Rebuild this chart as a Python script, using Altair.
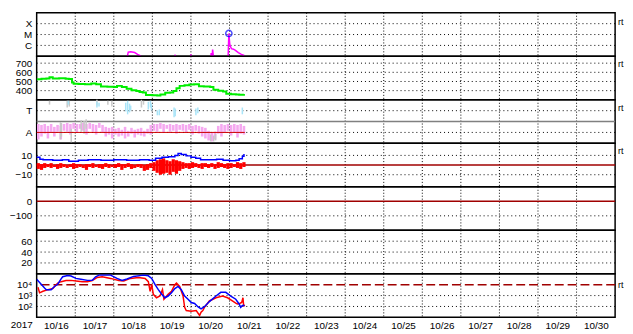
import altair as alt
import pandas as pd

W = 585
H = 44
FONT = "Liberation Sans"
FS = 10
DOT = [1, 3]
DARKRED = "#a00000"

# time axis: hours since 2017-10-16 00:00 UT
day_lines = list(range(24, 360, 24))
label_hours = list(range(12, 360, 24))

# X-ray flux
xray_h = [0, 56, 57, 58.5, 61, 62.8, 64.6, 65.8, 85.8, 86.2, 86.5, 95.7, 96, 96.3,
          108.3, 108.6, 109.1, 109.5, 110.2, 119.1, 119.6, 120.2, 121.2, 122.5, 123.7,
          125.5, 127.4, 129.2]
xray_v = [5e-8, 5e-8, 2.4e-7, 2.6e-7, 2.2e-7, 1.5e-7, 1.1e-7, 5e-8, 5e-8, 1.4e-7, 5e-8,
          5e-8, 1.5e-7, 5e-8, 5e-8, 2e-7, 5e-8, 4.2e-7, 5e-8, 5e-8, 1.25e-5, 1.2e-6,
          5e-7, 4.5e-7, 3.5e-7, 2.2e-7, 1.5e-7, 1.2e-7]
flare_h = [119.6]
flare_v = [1.25e-5]

# solar wind speed
speed_h = [0, 3, 6, 8, 10, 14, 18, 20, 22, 23, 26, 30, 34, 37, 40, 44, 48, 50, 53, 56,
           59, 62, 64, 66, 68, 72, 75, 77, 80, 83, 85, 87, 89, 92, 95, 98, 101, 104,
           108, 110, 113, 116, 118, 121, 124, 126, 129]
speed_v = [525, 530, 532, 545, 532, 535, 530, 528, 490, 475, 472, 470, 478, 470, 445,
           442, 440, 452, 440, 420, 405, 395, 385, 380, 352, 350, 348, 358, 376, 380,
           395, 425, 452, 460, 468, 470, 448, 445, 440, 410, 398, 390, 365, 360, 358,
           356, 362]

# IMF sector (phi), 2-hour bins
pink_hi = [160, 152, 160, 144, 160, 136, 152, 144, 160, 168,
           160, 168, 160, 160, 168, 160, 168, 160, 152, 168,
           152, 136, 128, 136, 120, 128, 112, 136, 104, 128,
           112, 120, 128, 104, 120, 152, 160, 160, 168, 160,
           152, 160, 152, 160, 152, 160, 152, 160, 144, 152,
           144, 136, 128, 104, 88, 96, 144, 160, 152, 160,
           152, 160, 152, 160, 144]
pink_lo = [32, 56, 80, 40, 88, 56, 96, 32, 104, 96,
           72, 120, 88, 120, 104, 72, 120, 96, 72, 128,
           88, 56, 72, 40, 72, 56, 64, 40, 56, 80,
           48, 72, 64, 56, 80, 72, 104, 96, 120, 88,
           120, 96, 104, 80, 112, 104, 88, 112, 72, 104,
           80, 56, 40, 24, 16, 32, 80, 56, 88, 104,
           64, 88, 48, 80, 72]
gray_h = [8, 14.8, 15.4, 19, 20.3, 21.5, 27.7, 29.5, 30.8, 37.5, 44.3, 46.8, 65.2, 66.5,
          108.3, 110.2, 111.4]
gray_lo = [320, 32, 56, 296, 304, 0, 96, 80, 120, 312, 320, 304, 296, 320, 16, 16, 24]
gray_hi = [352, 176, 168, 352, 352, 120, 192, 184, 200, 360, 352, 352, 360, 352, 72, 64, 80]
cyan_h = [19.7, 37.5, 38.8, 55.4, 56.6, 57.8, 58.5, 69.5, 70.8, 71.4, 75.1, 76.3, 85.5,
          86.2, 99.1, 100.3, 128]
cyan_lo = [320, 296, 304, 264, 240, 256, 272, 280, 296, 272, 232, 232, 216, 224, 232, 248, 240]
cyan_hi = [352, 344, 336, 336, 352, 328, 312, 344, 352, 328, 272, 280, 296, 288, 288, 296, 296]

# IMF Bt and Bz
bt_h = [0, 2, 4, 10, 16, 20, 26, 32, 40, 48, 56, 64, 70, 74, 78, 82, 86, 88, 90, 93, 96,
        99, 102, 108, 112, 116, 120, 124, 126, 128, 129]
bt_v = [8, 6, 5.5, 5, 5.5, 4, 5, 5.5, 5, 5.5, 5, 5.5, 5, 7, 8, 8.5, 10, 12, 11, 9.5, 8,
        7, 5.5, 5.5, 6, 5, 4.5, 5, 6.5, 9, 11.5]
bz_lo = [-4, -5, -3, -2, -3, -2, -4, -3, -2, -3, -2, -4, -3, -2, -3, -5, -2, -3, -2, -3,
         -4, -2, -3, -2, -3, -2, -5, -3, -2, -4, -3, -2, -3, -6, -5, -3, -6, -8, -10, -9,
         -8, -10, -7, -9, -6, -4, -3, -4, -3, -2, -3, -4, -2, -3, -2, -4, -3, -2, -3, -4,
         -3, -2, -3, -4, -2]
bz_hi = [2, 1, 2, 1, 2, 0, 1, 2, 1, 0, 1, 2, 1, 1, 0, 1, 1, 2, 0, 1,
         1, 2, 1, 0, 1, 2, 1, 1, 2, 1, 0, 1, 1, 0, 1, 2, 3, 5, 6, 7,
         5, 4, 6, 5, 4, 3, 2, 2, 3, 2, 1, 2, 2, 1, 2, 1, 3, 2, 1, 2,
         2, 1, 3, 2, 3]

# electron flux
eb_h = [0, 4.9, 6.0, 9.0, 11.1, 13.1, 15.2, 16.2, 19.3, 21.4, 24.4, 27.5, 31.6, 34.6,
        36.7, 38.8, 46.0, 50.0, 53.1, 56.2, 60.3, 66.5, 69.5, 71.6, 73.7, 75.7, 77.7,
        79.8, 81.8, 83.9, 86.0, 88.0, 90.0, 92.1, 94.2, 96.2, 98.3, 100.3, 102.3, 104.4,
        107.5, 111.6, 114.6, 117.7, 120.8, 123.9, 126.0, 127.0, 128.0, 129.4]
eb_v = [3.1e4, 5.0e3, 3.5e3, 3.5e3, 6.9e3, 1.1e4, 3.4e4, 5.4e4, 7.1e4, 6.3e4, 3.8e4,
        3.2e4, 2.5e4, 2.5e4, 5.4e4, 7.6e4, 7.6e4, 3.8e4, 2.5e4, 3.4e4, 5.8e4, 7.6e4,
        6.6e4, 3.8e4, 1.0e4, 3.5e3, 1.4e3, 630, 910, 1.8e3, 4.4e3, 6.9e3, 3.5e3, 910,
        460, 230, 190, 95, 59, 95, 280, 910, 2.0e3, 2.0e3, 910, 460, 170, 83, 120, 120]
er_h = [0.8, 1.8, 3.9, 7.0, 10.0, 13.1, 15.2, 18.3, 21.4, 24.4, 28.5, 31.6, 34.6, 37.7,
        40.8, 46.0, 51.1, 54.2, 58.3, 63.4, 67.5, 69.5, 70.6, 71.6, 72.6, 74.6, 76.7,
        78.3, 79.2, 81.8, 83.9, 86.0, 87.0, 89.0, 91.1, 92.1, 93.1, 96.2, 99.3, 101.4,
        102.3, 103.4, 104.4, 107.5, 111.6, 115.7, 118.8, 121.8, 123.9, 124.9, 126.3,
        127.6, 128.4, 128.8, 129.7]
er_v = [5.8e3, 1.8e3, 2.5e3, 3.5e3, 4.4e3, 1.4e4, 1.9e4, 2.4e4, 2.5e4, 2.2e4, 1.9e4,
        1.9e4, 2.4e4, 4.7e4, 5.4e4, 3.8e4, 2.4e4, 2.2e4, 3.8e4, 4.7e4, 3.8e4, 1.9e4,
        2.5e3, 1.0e4, 1.3e3, 630, 910, 3.5e3, 460, 1.3e3, 2.5e3, 1.0e4, 1.4e4, 6.9e3,
        910, 83, 42, 36, 42, 15, 30, 42, 83, 320, 630, 910, 630, 320, 200, 170, 190,
        230, 630, 120, 125]

XSC = alt.Scale(domain=[0, 360], nice=False, zero=False)


def xenc(bottom):
    if bottom:
        ax = alt.Axis(values=label_hours,
                      labelExpr="'10/' + (16 + floor(datum.value / 24))",
                      ticks=False, domain=False, grid=False, labelFont=FONT,
                      labelFontSize=FS, labelColor="black", labelPadding=3,
                      labelFlush=False, labelOverlap=False, title=None)
        return alt.X("h:Q", scale=XSC, axis=ax)
    return alt.X("h:Q", scale=XSC, axis=None)


def yenc(domain, stype, values, expr):
    return alt.Y("v:Q",
                 scale=alt.Scale(type=stype, domain=domain, nice=False, zero=False),
                 axis=alt.Axis(values=values, labelExpr=expr, ticks=False, domain=False,
                               grid=False, labelFont=FONT, labelFontSize=FS,
                               labelColor="black", labelPadding=5, minExtent=24,
                               maxExtent=24, title=None, labelOverlap=False))


def vgrid(bottom):
    return alt.Chart(pd.DataFrame({"h": day_lines})).mark_rule(
        color="black", strokeWidth=1, strokeDash=[1, 2]).encode(x=xenc(bottom))


def hdots(values, y):
    return alt.Chart(pd.DataFrame({"v": values})).mark_rule(
        color="black", strokeWidth=1, strokeDash=DOT).encode(y=y)


def hsolid(values, y, color, dash=None):
    kw = dict(color=color, strokeWidth=1.5)
    if dash:
        kw["strokeDash"] = dash
    return alt.Chart(pd.DataFrame({"v": values})).mark_rule(**kw).encode(y=y)


def rt(ypos):
    return alt.Chart(pd.DataFrame({"t": ["rt"]})).mark_text(
        align="left", baseline="middle", fontSize=9, font=FONT, color="black").encode(
        x=alt.value(W + 3), y=alt.value(ypos), text="t:N")


# Panel 1: X-ray
y1 = yenc([1e-7, 1e-3], "log", [1e-4, 1e-5, 1e-6],
          "datum.value > 3e-5 ? 'X' : (datum.value > 3e-6 ? 'M' : 'C')")
p1 = alt.layer(
    vgrid(False),
    hdots([1e-4, 1e-5, 1e-6], y1),
    alt.Chart(pd.DataFrame({"h": xray_h, "v": xray_v})).mark_line(
        color="#ff00ff", strokeWidth=1.5, clip=True).encode(x=xenc(False), y=y1),
    alt.Chart(pd.DataFrame({"h": flare_h, "v": flare_v})).mark_point(
        shape="circle", filled=False, color="#0000ff", size=40, strokeWidth=1.5).encode(
        x=xenc(False), y=y1),
    rt(9),
).properties(width=W, height=H)

# Panel 2: speed
y2 = yenc([300, 775], "linear", [700, 600, 500, 400], "datum.label")
p2 = alt.layer(
    vgrid(False),
    hdots([700, 600, 500, 400], y2),
    alt.Chart(pd.DataFrame({"h": speed_h, "v": speed_v})).mark_line(
        color="#00ee00", strokeWidth=2, interpolate="step-after", clip=True).encode(
        x=xenc(False), y=y2),
    rt(8),
).properties(width=W, height=H)

# Panel 3: sector
y3 = yenc([0, 360], "linear", [270, 90], "datum.value > 180 ? 'T' : 'A'")
pink_df = pd.DataFrame({"h": [2 * k + 1 for k in range(len(pink_lo))],
                        "v": pink_lo, "v2": pink_hi})
p3 = alt.layer(
    vgrid(False),
    hdots([270, 90], y3),
    hsolid([180], y3, "#808080"),
    alt.Chart(pink_df).mark_rule(color="#f5a8f0", strokeWidth=2.6).encode(
        x=xenc(False), y=y3, y2=alt.Y2("v2:Q")),
    alt.Chart(pd.DataFrame({"h": gray_h, "v": gray_lo, "v2": gray_hi})).mark_rule(
        color="#c8c8c8", strokeWidth=1.5).encode(x=xenc(False), y=y3, y2=alt.Y2("v2:Q")),
    alt.Chart(pd.DataFrame({"h": cyan_h, "v": cyan_lo, "v2": cyan_hi})).mark_rule(
        color="#a8e4f8", strokeWidth=1.5).encode(x=xenc(False), y=y3, y2=alt.Y2("v2:Q")),
    alt.Chart(pd.DataFrame({"h": [0], "h2": [129.5], "v": [90]})).mark_rule(
        color="#cc0000", strokeWidth=1).encode(x=xenc(False), x2=alt.X2("h2:Q"), y=y3),
    rt(8),
).properties(width=W, height=H)

# Panel 4: Bt / Bz
y4 = yenc([-22.5, 22.5], "linear", [10, 0, -10], "datum.label")
bz_df = pd.DataFrame({"h": [2 * k for k in range(len(bz_lo))],
                      "h2": [2 * k + 2 for k in range(len(bz_lo))],
                      "v": bz_lo, "v2": bz_hi})
p4 = alt.layer(
    vgrid(False),
    hdots([10, -10], y4),
    hsolid([0], y4, DARKRED),
    alt.Chart(bz_df).mark_rect(color="#ff0000").encode(
        x=xenc(False), x2=alt.X2("h2:Q"), y=y4, y2=alt.Y2("v2:Q")),
    alt.Chart(pd.DataFrame({"h": bt_h, "v": bt_v})).mark_line(
        color="#0000ff", strokeWidth=1.5, interpolate="step-after").encode(
        x=xenc(False), y=y4),
    rt(8),
).properties(width=W, height=H)

# Panel 5
y5 = yenc([-200, 100], "linear", [0, -100], "datum.label")
p5 = alt.layer(
    vgrid(False),
    hdots([-100], y5),
    hsolid([0], y5, DARKRED),
).properties(width=W, height=H)

# Panel 6
y6 = yenc([0, 80], "linear", [60, 40, 20], "datum.label")
p6 = alt.layer(
    vgrid(False),
    hdots([60, 40, 20], y6),
).properties(width=W, height=H)

# Panel 7: electrons
y7 = yenc([10, 1e5], "log", [1e4, 1e3, 1e2],
          "datum.value > 3000 ? '10⁴' : (datum.value > 300 ? '10³' : '10²')")
p7 = alt.layer(
    vgrid(True),
    hdots([1e3, 1e2], y7),
    hsolid([1e4], y7, DARKRED, dash=[9, 4]),
    alt.Chart(pd.DataFrame({"h": er_h, "v": er_v})).mark_line(
        color="#ff0000", strokeWidth=1.5, clip=True).encode(x=xenc(True), y=y7),
    alt.Chart(pd.DataFrame({"h": eb_h, "v": eb_v})).mark_line(
        color="#0000ff", strokeWidth=1.5, clip=True).encode(x=xenc(True), y=y7),
    rt(11),
    alt.Chart(pd.DataFrame({"t": ["2017"]})).mark_text(
        align="center", baseline="top", fontSize=FS, font=FONT, color="black").encode(
        x=alt.value(-15), y=alt.value(H + 3), text="t:N"),
).properties(width=W, height=H)

chart = alt.vconcat(p1, p2, p3, p4, p5, p6, p7, spacing=0, bounds="flush").configure_view(
    stroke="black", strokeWidth=1.5
).properties(
    padding={"left": 0, "top": 1, "right": 0, "bottom": 0},
    background="white",
)

chart.save("out.html", embed_options={"renderer": "svg", "actions": False})
